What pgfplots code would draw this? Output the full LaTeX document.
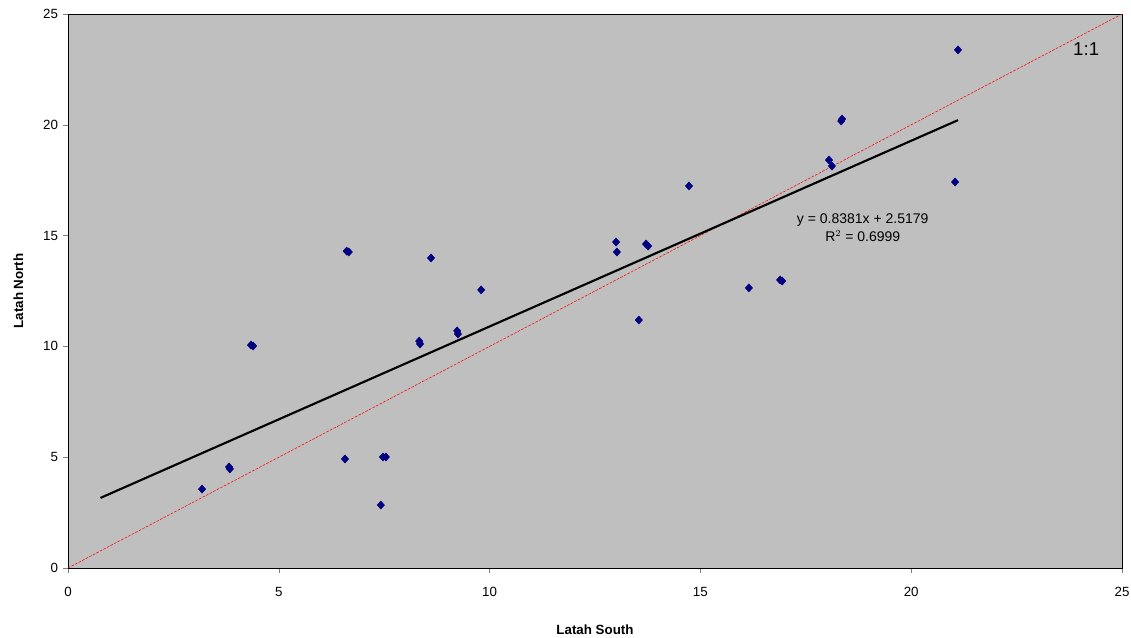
\documentclass[border=0pt]{standalone}
\usepackage{pgfplots}
\pgfplotsset{compat=1.18}
\usepackage{fontspec}
\setmainfont{Liberation Sans}
\begin{document}
\begin{tikzpicture}[x=0.75pt,y=0.75pt]
\useasboundingbox (-68,-70) rectangle (1063,568);
\begin{axis}[at={(0,0)},anchor=south west,scale only axis,width=790.5pt,height=415.5pt,
 xmin=0,xmax=25,ymin=0,ymax=25,xtick={0,5,...,25},ytick={0,5,...,25},
 axis background/.style={fill=black!25},
 tick align=outside,tick pos=left,major tick length=4pt,
 tick label style={font=\fontsize{10}{12}\selectfont},
 xticklabel style={yshift=-7pt},
 /pgf/number format/assume math mode=true,
 xlabel={\textbf{Latah South}},ylabel={\textbf{Latah North}},
 label style={font=\fontsize{10}{12}\selectfont},
 xlabel style={yshift=-14pt},ylabel style={yshift=8pt}]
\addplot[red,thin,dash pattern=on 2pt off 1pt,domain=0:25] coordinates {(0,0) (25,25)};
\addplot[black,line width=1.6pt] coordinates {(0.77,3.163) (21.11,20.210)};
\addplot[only marks,mark=diamond*,mark size=3pt,mark options={xscale=1.2},color={rgb,255:red,0;green,0;blue,128}] coordinates {
(3.18,3.56)(3.82,4.56)(3.84,4.47)(4.34,10.06)(4.39,10.02)(6.57,4.92)(6.61,14.30)(6.66,14.26)
(7.42,2.84)(7.47,5.01)(7.54,5.01)(8.33,10.24)(8.35,10.11)(8.61,13.99)(9.23,10.70)(9.25,10.56)
(9.80,12.55)(13.0,14.71)(13.02,14.26)(13.54,11.19)(13.71,14.62)(13.76,14.53)(14.73,17.24)
(16.15,12.64)(16.89,13.0)(16.94,12.95)(18.05,18.41)(18.12,18.14)(18.34,20.17)(18.36,20.26)
(21.04,17.42)(21.11,23.38)};
\node[font=\fontsize{10.5}{13}\selectfont,align=center] at (axis cs:18.85,15.35) {y = 0.8381x + 2.5179\\R$^2$ = 0.6999};
\node[font=\fontsize{14}{16}\selectfont] at (axis cs:24.15,23.4) {1:1};
\end{axis}
\end{tikzpicture}
\end{document}
